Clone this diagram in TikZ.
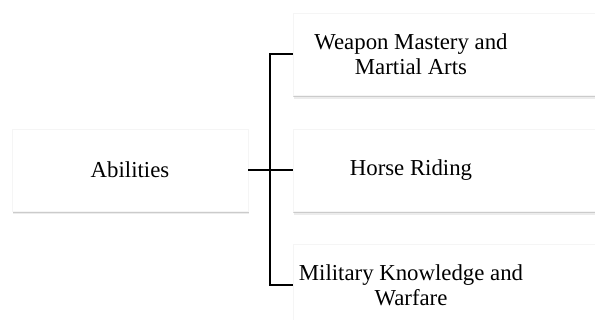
\documentclass[tikz,border=0pt]{standalone}
\usepackage{fontspec}
\setmainfont{Liberation Serif}
\usetikzlibrary{shadows,backgrounds}

\begin{document}
\begin{tikzpicture}[x=1pt,y=-1pt]
    \tikzstyle{every node}=[font={\fontsize{22.8}{25}\selectfont}]
    \tikzstyle{card}=[fill=white, draw=black!4,
        drop shadow={shadow xshift=0.8pt, shadow yshift=-3.5pt, opacity=0.15},
        drop shadow={shadow xshift=0.5pt, shadow yshift=-2pt, opacity=0.3}]
    \tikzstyle{item}=[minimum width=236pt, minimum height=82pt, align=center, inner sep=0pt]
    \tikzstyle{branch}=[line width=1.3pt]
    \clip (0,0) rectangle (595,320);
    \useasboundingbox (0,0) rectangle (595,320);
    % root and the three branches
    \node[item, card] (abilities) at (130,170) {Abilities};
    \node[item] (weapon) at (411,54) {Weapon Mastery and\\Martial Arts};
    \node[item] (horse) at (411,170) {Horse Riding};
    \node[item] (military) at (411,285) {Military Knowledge and\\Warfare};
    \begin{scope}[on background layer]
        \foreach \n in {weapon, horse, military}
            \path[card] (\n.north west) rectangle ([xshift=80pt]\n.south east);
    \end{scope}
    % connectors
    \coordinate (fork) at (270,170);
    \draw[branch] (abilities.east) -- (horse.west);
    \draw[branch] (weapon.west) -| (fork) |- (military.west);
\end{tikzpicture}
\end{document}
